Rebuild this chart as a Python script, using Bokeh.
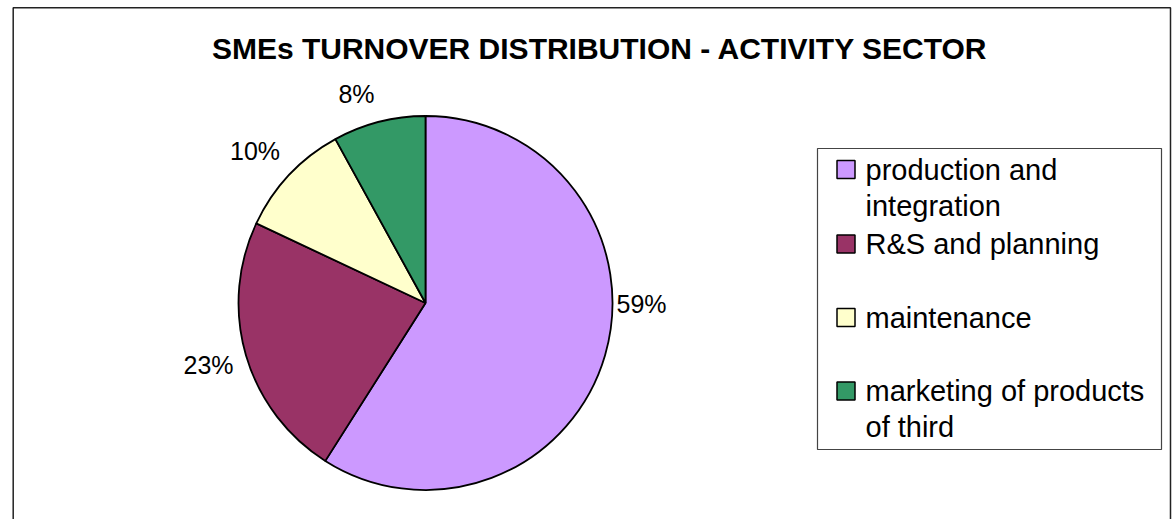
import math
from bokeh.plotting import figure
from bokeh.models import Range1d, ColumnDataSource
from bokeh.core.properties import value
from bokeh.embed import file_html
from bokeh.resources import INLINE

# ---- data ----
title_text = "SMEs TURNOVER DISTRIBUTION - ACTIVITY SECTOR"
categories = ["production and\nintegration", "R&S and planning", "maintenance",
              "marketing of products\nof third"]
shares = [59, 23, 10, 8]
colors = ["#CC99FF", "#993366", "#FFFFCC", "#339966"]

# ---- layout (pixel coordinates of the picture, y down) ----
W, H = 1174, 519
def X(px):
    return px
def Y(py):
    return H - py

pie_cx, pie_cy, pie_r = 425, 302.5, 187
label_pos = [(641, 303), (208, 364), (254.5, 150.5), (356, 93)]  # visual centres

FONT = value("Liberation Sans")

p = figure(width=W, height=H, x_range=Range1d(0, W), y_range=Range1d(0, H),
           output_backend="svg", toolbar_location=None, min_border=0)
p.axis.visible = False
p.grid.visible = False
p.outline_line_color = None
p.background_fill_color = "white"
p.border_fill_color = "white"

# outer frame
p.quad(left=[X(12.7)], right=[X(1170)], top=[Y(7.3)], bottom=[-20],
       fill_color=None, line_color="#222222", line_width=1.5)

# pie slices
total = float(sum(shares))
starts, ends = [], []
cum = 0.0
for s in shares:
    starts.append(math.pi / 2 - 2 * math.pi * cum / total)
    cum += s
    ends.append(math.pi / 2 - 2 * math.pi * cum / total)
src = ColumnDataSource(dict(start=starts, end=ends, color=colors))
p.wedge(x=X(pie_cx), y=Y(pie_cy), radius=pie_r, start_angle="start", end_angle="end",
        direction="clock", fill_color="color", line_color="black", line_width=1.8,
        source=src)

# percentage labels
p.text(x=[X(lx) for lx, ly in label_pos], y=[Y(ly) for lx, ly in label_pos],
       text=["%d%%" % round(100 * s / total) for s in shares],
       text_font=FONT, text_font_size="25px", text_color="black",
       text_align="center", text_baseline="middle")

# title
p.text(x=[X(599.5)], y=[Y(47.5)], text=[title_text], text_font=FONT,
       text_font_size="30px", text_font_style="bold", text_color="black",
       text_align="center", text_baseline="middle")

# legend box
p.quad(left=[X(817)], right=[X(1161)], top=[Y(148)], bottom=[Y(449)],
       fill_color="white", line_color="#444444", line_width=1.2)

sq_x, sq_size = 845.5, 18
sq_centres = [169, 243.5, 317, 390.5]
txt_x, line_gap = 865, 36
sq_xs, sq_ys, tx, ty, tt = [], [], [], [], []
for cat, c in zip(categories, sq_centres):
    sq_xs.append(X(sq_x))
    sq_ys.append(Y(c))
    for j, line in enumerate(cat.split("\n")):
        tx.append(X(txt_x))
        ty.append(Y(c + j * line_gap))
        tt.append(line)
p.rect(x=sq_xs, y=sq_ys, width=sq_size, height=sq_size, fill_color=colors,
       line_color="black", line_width=1.5)
p.text(x=tx, y=ty, text=tt, text_font=FONT, text_font_size="29px",
       text_color="black", text_align="left", text_baseline="middle")

open("out.html", "w").write(file_html(p, INLINE))
